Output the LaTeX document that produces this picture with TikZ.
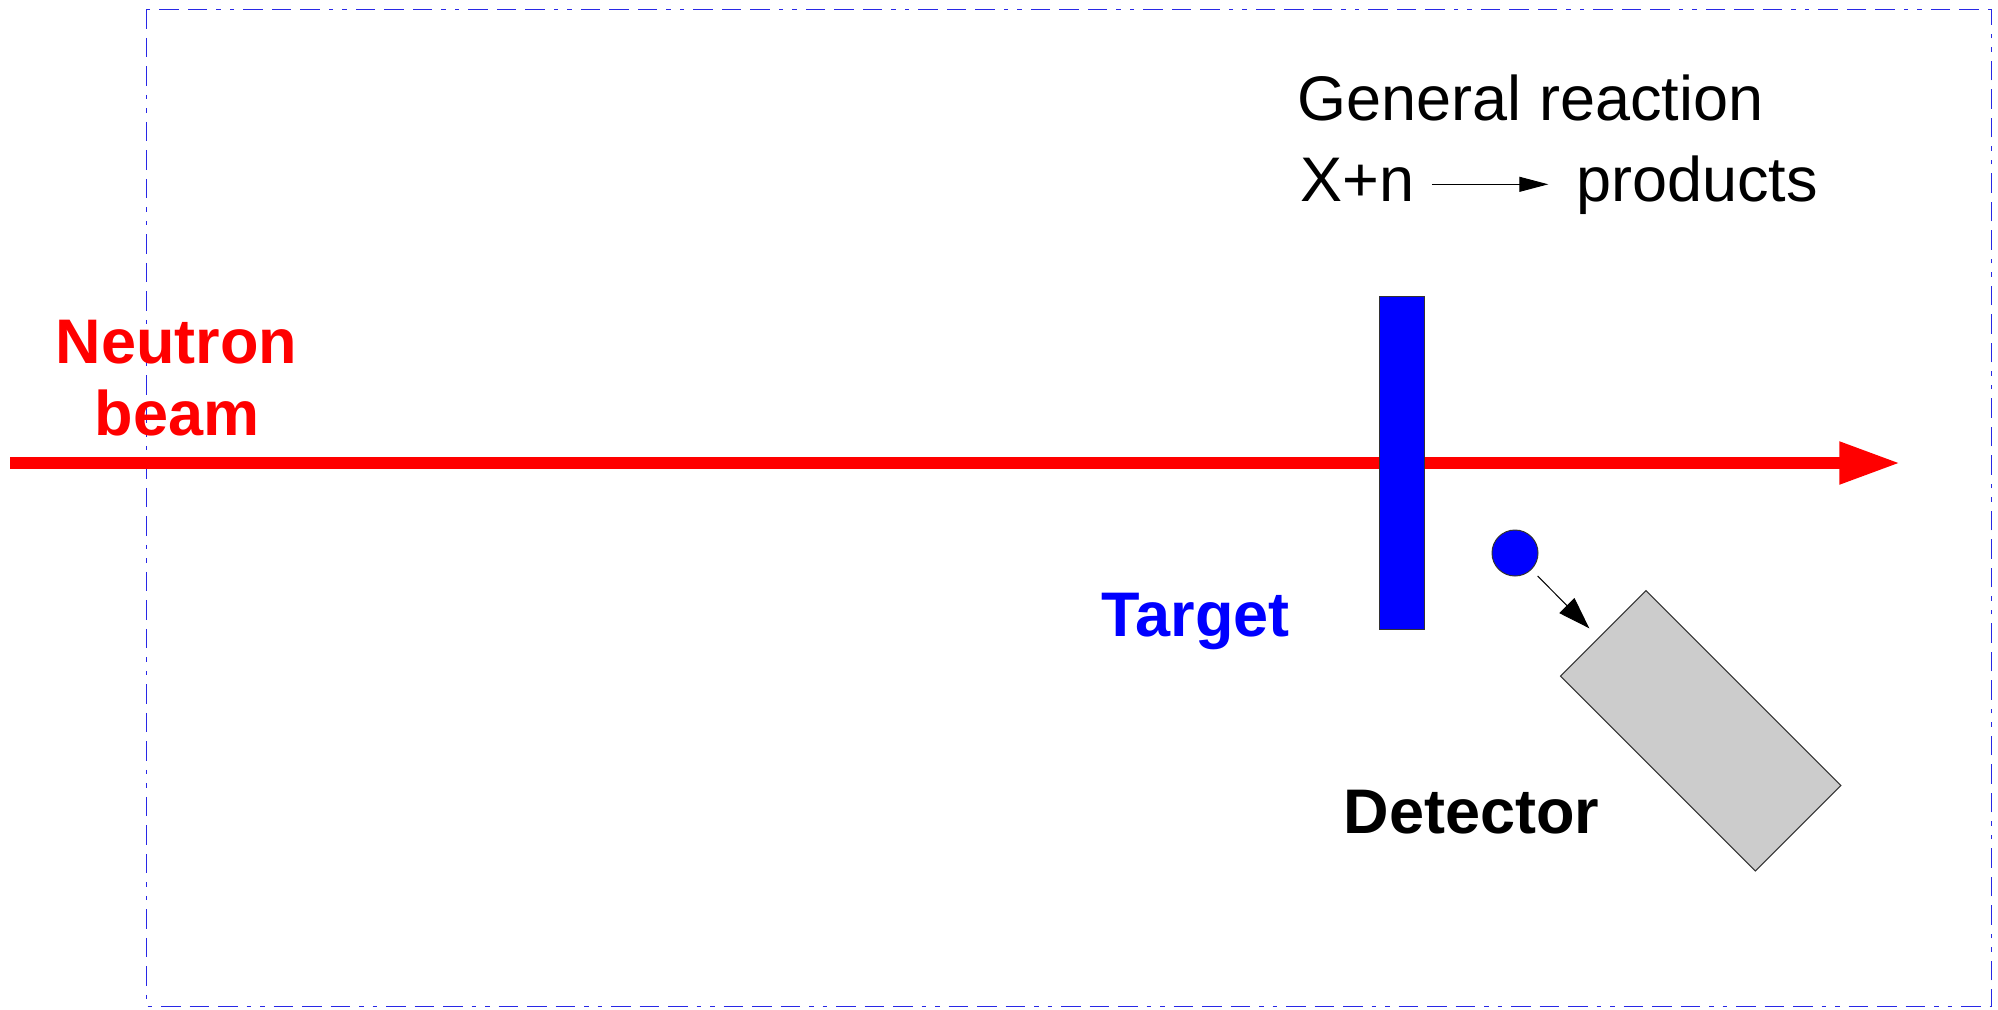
\documentclass[tikz,border=0pt]{standalone}
\usepackage{fontspec}
\setmainfont{Liberation Sans}
\usetikzlibrary{arrows.meta,calc}
\definecolor{framecol}{RGB}{40,40,230}
\definecolor{edgegray}{RGB}{51,51,51}
\definecolor{detgray}{RGB}{204,204,204}
\begin{document}
\begin{tikzpicture}[x=0.5pt,y=-0.5pt,
  frame/.style={draw=framecol, line width=0.5pt,
    dash pattern=on 9.75pt off 4.5pt on 9.75pt off 4.5pt on 9.75pt off 4.5pt on 2.25pt off 4.5pt on 2.25pt off 4.5pt},
  beam/.style={draw=red, line width=5.65pt, -{Triangle[length=30.35pt,width=20pt]}},
  targetbox/.style={rectangle, draw=edgegray, line width=0.5pt, fill=blue, minimum width=22.65pt, minimum height=166.65pt, inner sep=0pt},
  ball/.style={circle, draw=edgegray, line width=0.5pt, fill=blue, minimum size=23pt, inner sep=0pt},
  detbox/.style={rectangle, draw=edgegray, line width=0.5pt, fill=detgray, minimum width=137.8pt, minimum height=60.45pt, inner sep=0pt, rotate=-45},
  smallarrow/.style={draw=black, line width=0.5pt, -{Triangle[length=16pt,width=10.6pt]}},
  rxarrow/.style={draw=black, line width=0.5pt, -{Triangle[length=14.5pt,width=7.5pt]}},
  regtxt/.style={inner sep=0pt, outer sep=0pt, anchor=base west, font=\fontsize{31.5}{36}\selectfont},
  boldlbl/.style={inner sep=0pt, outer sep=0pt, font=\fontsize{31.5}{36}\selectfont\bfseries}
]
\useasboundingbox (0,0) rectangle (1998,1009);
\draw[frame] (146,9.3) rectangle (1991.7,1006.7);
% beam
\coordinate (bs) at (10,463);
\coordinate (be) at (1900,463);
\draw[beam] (bs) -- (be);
% target, particle, detector
\node[targetbox] (target) at (1401.7,462.7) {};
\node[ball] (ball) at (1515,553) {};
\node[detbox] (det) at (1700.7,730.8) {};
\coordinate (hit) at (1589.3,628.3);
\draw[smallarrow] ($(ball.center)+(22.7,23)$) -- (hit);
% reaction text
\node[regtxt] (gen) at (1297.7,120.7) {General reaction};
\node[regtxt] (xn) at (1300.5,201.7) {X+n};
\node[regtxt] (prod) at (1576,201.7) {products};
\draw[rxarrow] ($(xn.base east)+(17.4,-17.4)$) -- ($(prod.base west)+(-27.7,-17.4)$);
% labels
\node[boldlbl, text=red, anchor=base] (nb1) at (176.5,363.3) {Neutron};
\node[boldlbl, text=red, anchor=base] (nb2) at (176.8,435) {beam};
\node[boldlbl, text=blue, anchor=base west] (tlabel) at (1101.9,636.7) {Target};
\node[boldlbl, text=black, anchor=base west] (dlabel) at (1343.7,833.3) {Detector};
\end{tikzpicture}
\end{document}
